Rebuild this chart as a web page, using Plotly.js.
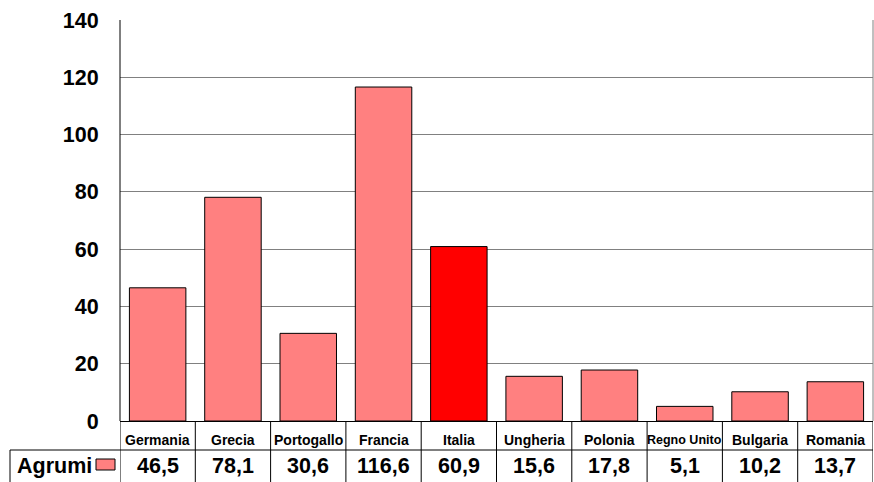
<!DOCTYPE html>
<html><head><meta charset="utf-8">
<script src="https://cdn.plot.ly/plotly-3.0.1.min.js"></script>
<style>html,body{margin:0;padding:0;background:#fff;}#chart{width:874px;height:482px;}</style>
</head><body><div id="chart"></div>
<script>
const categories = ["Germania","Grecia","Portogallo","Francia","Italia","Ungheria","Polonia","Regno Unito","Bulgaria","Romania"];
const values = [46.5, 78.1, 30.6, 116.6, 60.9, 15.6, 17.8, 5.1, 10.2, 13.7];
const valueLabels = ["46,5","78,1","30,6","116,6","60,9","15,6","17,8","5,1","10,2","13,7"];
const seriesName = "Agrumi";
const highlight = "Italia";
const yTicks = [0,20,40,60,80,100,120,140];

const W = 874, H = 482, mL = 120, mR = 1, mT = 20, mB = 61;
const pw = W - mL - mR, ph = H - mT - mB;
const px = p => (p - mL) / pw;          // pixel x -> paper
const py = p => (H - mB - p) / ph;      // pixel y -> paper

const idx = categories.map((_, i) => i);
const colors = categories.map(c => c === highlight ? "#FF0000" : "#FF8080");

const trace = {
  type: "bar", x: idx, y: values,
  marker: {color: colors, line: {color: "#000", width: 1}},
  hoverinfo: "none", showlegend: false
};

const shapes = [];
const annotations = [];
const tableBottom = py(490);
for (let i = 0; i <= categories.length; i++) {
  shapes.push({type: "line", xref: "x", yref: "paper", x0: i - 0.5, x1: i - 0.5, y0: 0, y1: tableBottom, line: {color: "#000", width: 1}});
}
shapes.push({type: "line", xref: "paper", yref: "paper", x0: px(10), x1: 1, y0: py(450), y1: py(450), line: {color: "#000", width: 1}});
shapes.push({type: "line", xref: "paper", yref: "paper", x0: px(10), x1: px(10), y0: py(450), y1: tableBottom, line: {color: "#000", width: 1}});
shapes.push({type: "line", xref: "paper", yref: "paper", x0: 0, x1: 0, y0: 0, y1: 1, line: {color: "#000", width: 1}});
shapes.push({type: "line", xref: "paper", yref: "paper", x0: 1, x1: 1, y0: 0, y1: 1, line: {color: "#808080", width: 1}});
shapes.push({type: "rect", xref: "paper", yref: "paper", x0: px(96), x1: px(115), y0: py(470), y1: py(459), fillcolor: "#FF8080", line: {color: "#000", width: 1}});

const fam = "Liberation Sans, Arial";
categories.forEach((c, i) => {
  const small = c === "Regno Unito";
  annotations.push({xref: "x", yref: "paper", x: i, y: py(440), yanchor: "middle", xanchor: "center", showarrow: false,
    text: "<b>" + c + "</b>", font: {family: fam, size: small ? 12.5 : 14, color: "#000"}});
  annotations.push({xref: "x", yref: "paper", x: i, y: py(466), yanchor: "middle", xanchor: "center", showarrow: false,
    text: "<b>" + valueLabels[i] + "</b>", font: {family: fam, size: 21.5, color: "#000"}});
});
annotations.push({xref: "paper", yref: "paper", x: px(15), y: py(466), xanchor: "left", yanchor: "middle", showarrow: false,
  text: "<b>" + seriesName + "</b>", font: {family: fam, size: 21.5, color: "#000"}});

const layout = {
  width: W, height: H,
  margin: {l: mL, r: mR, t: mT, b: mB, pad: 0},
  paper_bgcolor: "#fff", plot_bgcolor: "#fff",
  bargap: 0.25,
  showlegend: false,
  font: {family: fam, color: "#000"},
  xaxis: {range: [-0.5, categories.length - 0.5], showticklabels: false, showgrid: false, zeroline: false,
    showline: true, linecolor: "#000", linewidth: 1, ticks: "", fixedrange: true},
  yaxis: {range: [0, 140], tickvals: yTicks, ticktext: yTicks.map(String), showgrid: true, gridcolor: "#808080", gridwidth: 1,
    zeroline: false, showline: false, ticks: "outside", ticklen: 16, tickcolor: "rgba(0,0,0,0)",
    tickfont: {family: fam, size: 21.5, color: "#000", weight: "bold"}, fixedrange: true},
  shapes: shapes, annotations: annotations
};

Plotly.newPlot("chart", [trace], layout, {displayModeBar: false, staticPlot: true});
</script></body></html>
